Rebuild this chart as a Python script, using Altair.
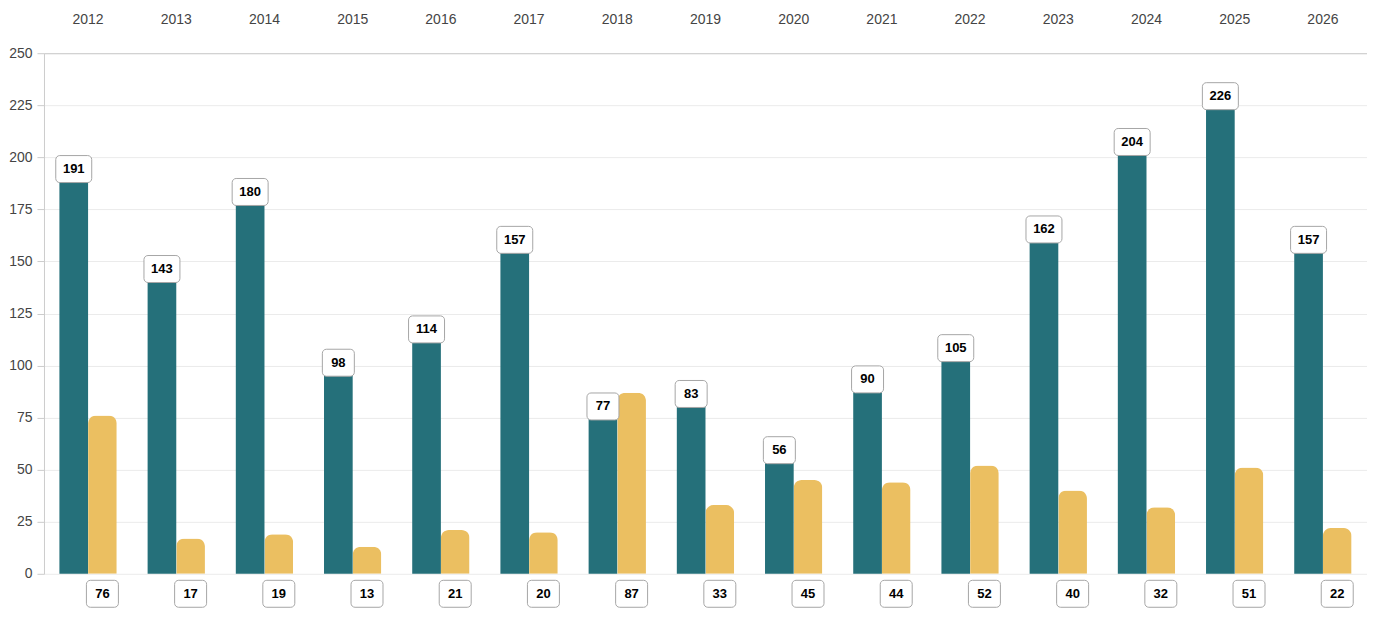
import altair as alt
import pandas as pd

years = [str(y) for y in range(2012, 2027)]
teal_values = [191, 143, 180, 98, 114, 157, 77, 83, 56, 90, 105, 162, 204, 226, 157]
gold_values = [76, 17, 19, 13, 21, 20, 87, 33, 45, 44, 52, 40, 32, 51, 22]

df = pd.DataFrame({
    "year": years * 2,
    "series": ["A"] * len(years) + ["B"] * len(years),
    "value": teal_values + gold_values,
})

W, H = 1324, 521
FONT = "Liberation Sans"

# rounded label boxes as custom symbol paths (size=4 -> 1 unit = 1px)
BOX3 = "M-14,-13.5H14A4,4,0,0,1,18,-9.5V9.5A4,4,0,0,1,14,13.5H-14A4,4,0,0,1,-18,9.5V-9.5A4,4,0,0,1,-14,-13.5Z"
BOX2 = "M-12,-13.5H12A4,4,0,0,1,16,-9.5V9.5A4,4,0,0,1,12,13.5H-12A4,4,0,0,1,-16,9.5V-9.5A4,4,0,0,1,-12,-13.5Z"

x_enc = alt.X("year:N", title=None, sort=years,
              scale=alt.Scale(paddingInner=0.35, paddingOuter=0.175),
              axis=alt.Axis(orient="top", ticks=False, domain=True, domainColor="#cccccc",
                            labelAngle=0, labelPadding=27, labelFontSize=14,
                            labelColor="#444444", labelFont=FONT))
off_enc = alt.XOffset("series:N", scale=alt.Scale(domain=["A", "B"], paddingInner=0, paddingOuter=0))
y_enc = alt.Y("value:Q", title=None,
              scale=alt.Scale(domain=[0, 250], nice=False),
              axis=alt.Axis(values=list(range(0, 251, 25)), grid=True, gridColor="#ebebeb",
                            domainColor="#cccccc", tickColor="#cccccc", tickSize=7,
                            labelPadding=5, labelFontSize=14, labelColor="#444444",
                            labelFont=FONT))

base = alt.Chart(df)

teal = base.transform_filter("datum.series == 'A'").mark_bar(color="#25707a").encode(
    x=x_enc, xOffset=off_enc, y=y_enc)
gold = base.transform_filter("datum.series == 'B'").mark_bar(
    color="#ebbf61", cornerRadiusTopLeft=8, cornerRadiusTopRight=8).encode(
    x=x_enc, xOffset=off_enc, y=y_enc)

shape_expr = f"datum.value >= 100 ? '{BOX3}' : '{BOX2}'"

teal_box = base.transform_filter("datum.series == 'A'").transform_calculate(
    shp=shape_expr).mark_point(filled=True, fill="white", stroke="#a6a6a6", strokeWidth=1,
                               opacity=1, size=4, yOffset=-7).encode(
    x=x_enc, xOffset=off_enc, y=y_enc, shape=alt.Shape("shp:N", scale=None))
teal_text = base.transform_filter("datum.series == 'A'").mark_text(
    fontSize=13, fontWeight="bold", color="black", font=FONT, baseline="middle",
    align="center", yOffset=-7).encode(
    x=x_enc, xOffset=off_enc, y=y_enc, text="value:Q")

gold_box = base.transform_filter("datum.series == 'B'").transform_calculate(
    shp=shape_expr).mark_point(filled=True, fill="white", stroke="#a6a6a6", strokeWidth=1,
                               opacity=1, size=4).encode(
    x=x_enc, xOffset=off_enc, y=alt.value(H + 20), shape=alt.Shape("shp:N", scale=None))
gold_text = base.transform_filter("datum.series == 'B'").mark_text(
    fontSize=13, fontWeight="bold", color="black", font=FONT, baseline="middle",
    align="center").encode(
    x=x_enc, xOffset=off_enc, y=alt.value(H + 20), text="value:Q")

chart = alt.layer(teal, gold, teal_box, teal_text, gold_box, gold_text).properties(
    width=W, height=H, padding={"left": 0, "top": 4, "right": 0, "bottom": 0}
).configure_view(stroke=None)

chart.save("out.html", embed_options={"renderer": "svg", "actions": False})
